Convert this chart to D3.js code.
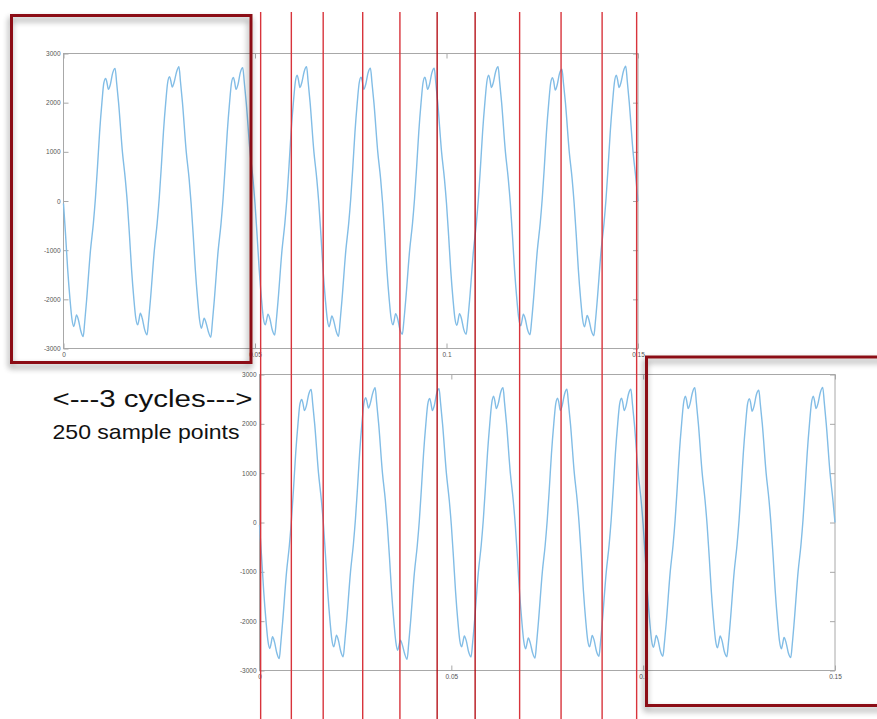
<!DOCTYPE html>
<html>
<head>
<meta charset="utf-8">
<script src="https://cdn.jsdelivr.net/npm/d3@7"></script>
<style>
  body { margin: 0; background: #fff; }
  svg { display: block; }
</style>
</head>
<body>
<svg id="chart" width="877" height="719"></svg>
<script>
// Sampled waveform: 9 cycles of a distorted 60 Hz signal over 0.15 s (time in ms)
const timeMs = [
  0.00, 0.55, 1.10, 1.70, 2.20, 2.69, 3.00, 3.39, 3.90, 4.50, 5.14, 5.55, 6.05, 7.05, 7.80, 8.33, 8.88, 9.43, 10.03, 10.53, 11.02, 11.33, 11.72, 12.23, 12.83, 13.47, 13.88, 14.38, 15.38, 16.13,
  16.67, 17.22, 17.77, 18.37, 18.87, 19.36, 19.67, 20.06, 20.57, 21.17, 21.81, 22.22, 22.72, 23.72, 24.47, 25.00, 25.55, 26.10, 26.70, 27.20, 27.69, 28.00, 28.39, 28.90, 29.50, 30.14, 30.55, 31.05, 32.05, 32.80,
  33.33, 33.88, 34.43, 35.03, 35.53, 36.02, 36.33, 36.72, 37.23, 37.83, 38.47, 38.88, 39.38, 40.38, 41.13, 41.66, 42.21, 42.76, 43.36, 43.86, 44.35, 44.66, 45.05, 45.56, 46.16, 46.80, 47.21, 47.71, 48.71, 49.46,
  50.00, 50.55, 51.10, 51.70, 52.20, 52.69, 53.00, 53.39, 53.90, 54.50, 55.14, 55.55, 56.05, 57.05, 57.80, 58.33, 58.88, 59.43, 60.03, 60.53, 61.02, 61.33, 61.72, 62.23, 62.83, 63.47, 63.88, 64.38, 65.38, 66.13,
  66.67, 67.22, 67.77, 68.37, 68.87, 69.36, 69.67, 70.06, 70.57, 71.17, 71.81, 72.22, 72.72, 73.72, 74.47, 75.00, 75.55, 76.10, 76.70, 77.20, 77.69, 78.00, 78.39, 78.90, 79.50, 80.14, 80.55, 81.05, 82.05, 82.80,
  83.33, 83.88, 84.43, 85.03, 85.53, 86.02, 86.33, 86.72, 87.23, 87.83, 88.47, 88.88, 89.38, 90.38, 91.13, 91.66, 92.21, 92.76, 93.36, 93.86, 94.35, 94.66, 95.05, 95.56, 96.16, 96.80, 97.21, 97.71, 98.71, 99.46,
  100.00, 100.55, 101.10, 101.70, 102.20, 102.69, 103.00, 103.39, 103.90, 104.50, 105.14, 105.55, 106.05, 107.05, 107.80, 108.33, 108.88, 109.43, 110.03, 110.53, 111.02, 111.33, 111.72, 112.23, 112.83, 113.47, 113.88, 114.38, 115.38, 116.13,
  116.67, 117.22, 117.77, 118.37, 118.87, 119.36, 119.67, 120.06, 120.57, 121.17, 121.81, 122.22, 122.72, 123.72, 124.47, 125.00, 125.55, 126.10, 126.70, 127.20, 127.69, 128.00, 128.39, 128.90, 129.50, 130.14, 130.55, 131.05, 132.05, 132.80,
  133.33, 133.88, 134.43, 135.03, 135.53, 136.02, 136.33, 136.72, 137.23, 137.83, 138.47, 138.88, 139.38, 140.38, 141.13, 141.66, 142.21, 142.76, 143.36, 143.86, 144.35, 144.66, 145.05, 145.56, 146.16, 146.80, 147.21, 147.71, 148.71, 149.46,
  150.00
];

const amplitude = [
  -50, -700, -1400, -2000, -2400, -2555, -2460, -2317, -2420, -2640, -2758, -2450, -2000, -1000, -450, 50, 700, 1400, 2000, 2400, 2494, 2415, 2270, 2370, 2600, 2697, 2400, 2000, 1000, 450,
  -40, -690, -1390, -1990, -2380, -2520, -2430, -2283, -2390, -2610, -2723, -2430, -1990, -1000, -440, 60, 710, 1410, 2010, 2410, 2530, 2450, 2320, 2420, 2620, 2730, 2420, 2010, 1000, 450,
  -60, -710, -1410, -2010, -2420, -2590, -2500, -2386, -2480, -2660, -2773, -2460, -2010, -1010, -460, 40, 700, 1400, 2000, 2400, 2515, 2430, 2270, 2370, 2610, 2710, 2410, 2000, 1000, 450,
  -50, -700, -1400, -2000, -2390, -2520, -2430, -2300, -2400, -2620, -2725, -2440, -2000, -1000, -450, 50, 710, 1410, 2010, 2420, 2560, 2470, 2310, 2410, 2630, 2730, 2420, 2010, 1000, 450,
  -50, -700, -1400, -2000, -2400, -2560, -2470, -2340, -2440, -2640, -2750, -2450, -2000, -1000, -450, 50, 700, 1400, 2000, 2400, 2520, 2440, 2270, 2370, 2600, 2700, 2400, 2000, 1000, 450,
  -50, -690, -1390, -1990, -2380, -2520, -2430, -2290, -2390, -2610, -2710, -2430, -1990, -1000, -450, 50, 700, 1400, 2000, 2400, 2520, 2440, 2270, 2370, 2600, 2700, 2400, 2000, 1000, 450,
  -50, -700, -1400, -2000, -2390, -2530, -2440, -2290, -2390, -2610, -2710, -2430, -2000, -1000, -450, 50, 710, 1410, 2010, 2420, 2560, 2470, 2310, 2410, 2630, 2730, 2420, 2010, 1000, 450,
  -50, -700, -1400, -2000, -2390, -2540, -2450, -2300, -2400, -2620, -2720, -2440, -2000, -1000, -450, 50, 700, 1400, 2000, 2400, 2510, 2430, 2255, 2360, 2590, 2680, 2390, 2000, 1000, 450,
  -50, -700, -1400, -2000, -2400, -2560, -2470, -2330, -2430, -2640, -2740, -2450, -2000, -1000, -450, 50, 710, 1410, 2010, 2420, 2560, 2470, 2310, 2410, 2630, 2740, 2430, 2010, 1000, 450,
  0
];

const xTickValues = [0, 0.05, 0.1, 0.15];
const yTickValues = [-3000, -2000, -1000, 0, 1000, 2000, 3000];

// Vertical guide lines, in ms on the lower plot's time axis
const guideTimesMs = [0.3, 8.3, 16.6, 26.9, 36.6, 67.8, 78.6, 89.3, 98.3];
const centerGuideTimesMs = [46.3, 56.2];

const captionLines = ["<---3 cycles--->", "250 sample points"];

const svg = d3.select("#chart");
const defs = svg.append("defs");

// soft drop shadow for the highlight frames
const shadow = defs.append("filter").attr("id", "frameShadow")
  .attr("x", "-5%").attr("y", "-5%").attr("width", "115%").attr("height", "115%");
shadow.append("feGaussianBlur").attr("in", "SourceAlpha").attr("stdDeviation", 3).attr("result", "blur");
shadow.append("feOffset").attr("in", "blur").attr("dx", -1).attr("dy", 4).attr("result", "off");
shadow.append("feComponentTransfer").attr("in", "off").attr("result", "soft")
  .append("feFuncA").attr("type", "linear").attr("slope", 0.45);
const merge = shadow.append("feMerge");
merge.append("feMergeNode").attr("in", "soft");
merge.append("feMergeNode").attr("in", "SourceGraphic");

const samples = timeMs.map((t, i) => ({ t: t / 1000, v: amplitude[i] }));

const AXIS_GREY = "#a8a8a8";
const LABEL_GREY = "#555";

function drawPanel(left, top, width, height) {
  const x = d3.scaleLinear().domain([0, 0.15]).range([left, left + width]);
  const y = d3.scaleLinear().domain([-3000, 3000]).range([top + height, top]);
  const g = svg.append("g");

  const style = sel => {
    sel.select(".domain").remove();
    sel.selectAll(".tick line").attr("stroke", AXIS_GREY);
    sel.selectAll(".tick text")
      .attr("fill", LABEL_GREY)
      .style("font-family", "'Liberation Sans', Arial, sans-serif")
      .style("font-size", "6.5px");
  };

  g.append("g").attr("transform", `translate(0,${top + height})`)
    .call(d3.axisBottom(x).tickValues(xTickValues).tickSize(-5).tickPadding(4).tickFormat(d => String(d)))
    .call(style);
  g.append("g").attr("transform", `translate(0,${top})`)
    .call(d3.axisTop(x).tickValues(xTickValues).tickSize(-5).tickFormat(""))
    .call(style);
  g.append("g").attr("transform", `translate(${left},0)`)
    .call(d3.axisLeft(y).tickValues(yTickValues).tickSize(-5).tickPadding(3).tickFormat(d => String(d)))
    .call(style);
  g.append("g").attr("transform", `translate(${left + width},0)`)
    .call(d3.axisRight(y).tickValues(yTickValues).tickSize(-5).tickFormat(""))
    .call(style);

  g.append("rect")
    .attr("x", left).attr("y", top).attr("width", width).attr("height", height)
    .attr("fill", "none").attr("stroke", AXIS_GREY).attr("stroke-width", 1);

  const line = d3.line().x(d => x(d.t)).y(d => y(d.v)).curve(d3.curveMonotoneX);
  g.append("path").datum(samples)
    .attr("d", line)
    .attr("fill", "none")
    .attr("stroke", "#82bde6")
    .attr("stroke-width", 1.4)
    .attr("stroke-linejoin", "round");

  return { x, y };
}

const upper = drawPanel(63.5, 53.5, 574.5, 295);
const lower = drawPanel(259.5, 374.5, 575.5, 296);

// guide lines across both plots
const guides = svg.append("g");
guides.selectAll("line.guide").data(guideTimesMs).join("line")
  .attr("class", "guide")
  .attr("x1", d => lower.x(d / 1000)).attr("x2", d => lower.x(d / 1000))
  .attr("y1", 12).attr("y2", 719)
  .attr("stroke", "#d8343c").attr("stroke-width", 1.4);
guides.selectAll("line.center").data(centerGuideTimesMs).join("line")
  .attr("class", "center")
  .attr("x1", d => lower.x(d / 1000)).attr("x2", d => lower.x(d / 1000))
  .attr("y1", 12).attr("y2", 719)
  .attr("stroke", "#b00008").attr("stroke-width", 1.3);

// caption
const caption = svg.append("g")
  .style("font-family", "'Liberation Sans', Arial, sans-serif")
  .attr("fill", "#111");
caption.append("text")
  .attr("x", 52.5).attr("y", 407)
  .attr("font-size", 23.5)
  .attr("textLength", 200).attr("lengthAdjust", "spacingAndGlyphs")
  .text(captionLines[0]);
caption.append("text")
  .attr("x", 52.5).attr("y", 438.5)
  .attr("font-size", 21)
  .attr("textLength", 187).attr("lengthAdjust", "spacingAndGlyphs")
  .text(captionLines[1]);

// highlight frames
const frames = svg.append("g").attr("filter", "url(#frameShadow)");
frames.append("rect")
  .attr("x", 11.5).attr("y", 15.5).attr("width", 239.5).attr("height", 347)
  .attr("fill", "none").attr("stroke", "#8c0f12").attr("stroke-width", 3);
frames.append("rect")
  .attr("x", 646.5).attr("y", 357).attr("width", 260).attr("height", 348.5)
  .attr("fill", "none").attr("stroke", "#8c0f12").attr("stroke-width", 3);
</script>
</body>
</html>
